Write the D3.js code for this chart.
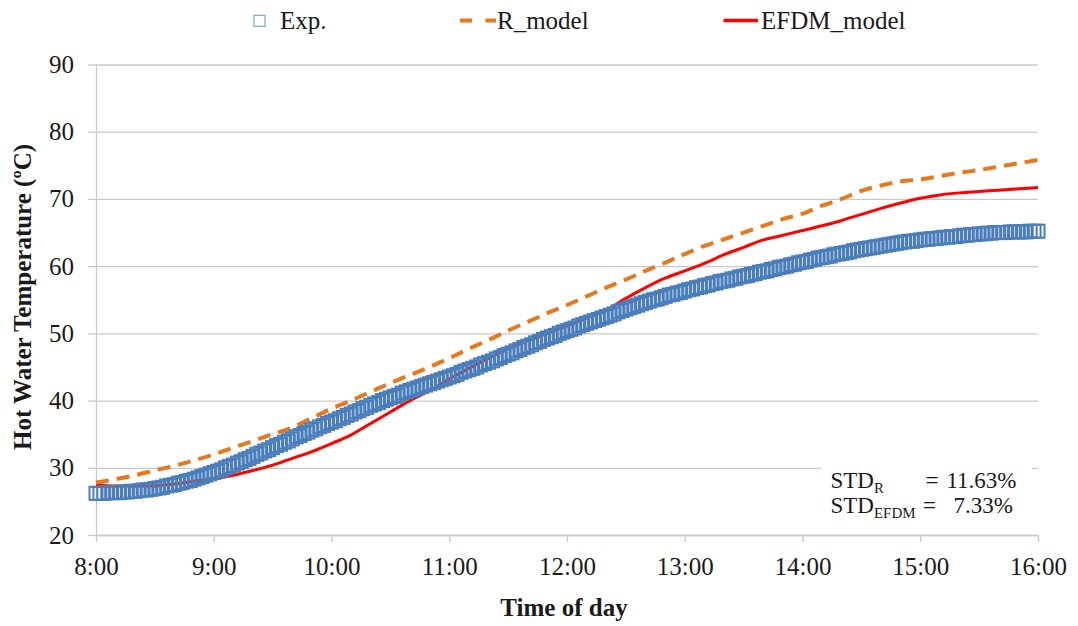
<!DOCTYPE html>
<html>
<head>
<meta charset="utf-8">
<script src="https://cdn.jsdelivr.net/npm/d3@7"></script>
<style>
  body { margin: 0; background: #fff; }
  svg text { font-family: "Liberation Serif", "Times New Roman", serif; fill: #1a1a1a; }
</style>
</head>
<body>
<svg id="chart" width="1078" height="626"></svg>
<script>
// tick labels
const hourLabels = ["8:00", "9:00", "10:00", "11:00", "12:00", "13:00", "14:00", "15:00", "16:00"];
const yTicks = [20, 30, 40, 50, 60, 70, 80, 90];

// measured hot water temperature, one reading every 2 min from 8:00
const expStart = "8:00";
const expStepMin = 2;
const expValues = [
  26.2, 26.2, 26.2, 26.3, 26.3, 26.3, 26.3, 26.4, 26.4, 26.5,
  26.5, 26.6, 26.7, 26.7, 26.8, 26.9, 27.0, 27.1, 27.3, 27.4,
  27.5, 27.7, 27.8, 28.0, 28.1, 28.3, 28.5, 28.7, 28.9, 29.1,
  29.3, 29.5, 29.7, 30.0, 30.2, 30.4, 30.7, 30.9, 31.2, 31.4,
  31.7, 32.0, 32.2, 32.5, 32.7, 33.0, 33.3, 33.5, 33.8, 34.0,
  34.3, 34.6, 34.8, 35.1, 35.3, 35.6, 35.8, 36.1, 36.3, 36.6,
  36.8, 37.0, 37.3, 37.5, 37.8, 38.0, 38.3, 38.5, 38.8, 39.0,
  39.3, 39.5, 39.7, 40.0, 40.2, 40.4, 40.6, 40.8, 41.1, 41.3,
  41.5, 41.7, 41.9, 42.1, 42.3, 42.5, 42.7, 42.9, 43.1, 43.3,
  43.5, 43.7, 43.9, 44.2, 44.4, 44.6, 44.8, 45.0, 45.3, 45.5,
  45.7, 45.9, 46.2, 46.4, 46.7, 46.9, 47.1, 47.4, 47.6, 47.9,
  48.1, 48.3, 48.6, 48.8, 49.1, 49.3, 49.5, 49.7, 50.0, 50.2,
  50.4, 50.6, 50.8, 51.1, 51.3, 51.5, 51.7, 51.9, 52.1, 52.3,
  52.5, 52.7, 52.9, 53.2, 53.4, 53.6, 53.8, 54.0, 54.2, 54.4,
  54.6, 54.8, 55.0, 55.1, 55.3, 55.5, 55.7, 55.8, 56.0, 56.1,
  56.3, 56.5, 56.6, 56.8, 56.9, 57.1, 57.2, 57.4, 57.5, 57.7,
  57.8, 57.9, 58.1, 58.2, 58.4, 58.5, 58.6, 58.8, 58.9, 59.1,
  59.2, 59.3, 59.5, 59.6, 59.8, 59.9, 60.0, 60.2, 60.3, 60.5,
  60.6, 60.7, 60.9, 61.0, 61.2, 61.3, 61.4, 61.5, 61.7, 61.8,
  61.9, 62.0, 62.1, 62.3, 62.4, 62.5, 62.6, 62.7, 62.8, 62.9,
  63.0, 63.1, 63.2, 63.3, 63.4, 63.5, 63.6, 63.7, 63.7, 63.8,
  63.9, 64.0, 64.0, 64.1, 64.1, 64.2, 64.3, 64.3, 64.4, 64.4,
  64.5, 64.6, 64.6, 64.7, 64.7, 64.8, 64.8, 64.9, 64.9, 65.0,
  65.0, 65.0, 65.0, 65.1, 65.1, 65.1, 65.1, 65.1, 65.2, 65.2,
  65.2
];

// model predictions, one value every 10 min from 8:00
const modelStepMin = 10;
const rModel = [
  27.8, 28.3, 28.9, 29.6, 30.3, 31.1, 32.0, 33.0, 34.0, 35.0,
  36.0, 37.4, 38.8, 40.0, 41.3, 42.6, 43.8, 45.0, 46.3, 47.7,
  49.0, 50.4, 51.7, 53.0, 54.2, 55.5, 56.8, 58.0, 59.3, 60.5,
  61.8, 63.0, 64.0, 65.0, 66.0, 67.0, 67.8, 69.0, 70.0, 71.2,
  72.0, 72.6, 72.9, 73.4, 73.9, 74.3, 74.8, 75.3, 75.8
];
const efdmModel = [
  27.4, 27.3, 27.3, 27.3, 27.6, 28.0, 28.4, 28.9, 29.6, 30.4,
  31.4, 32.4, 33.6, 34.9, 36.6, 38.3, 40.0, 41.5, 43.2, 44.8,
  46.3, 47.7, 48.9, 50.0, 51.1, 52.3, 53.5, 55.2, 56.8, 58.2,
  59.3, 60.4, 61.7, 62.8, 63.9, 64.6, 65.3, 66.0, 66.8, 67.7,
  68.6, 69.4, 70.1, 70.6, 70.9, 71.1, 71.3, 71.5, 71.7
];

const stdRows = [
  { name: "STD", sub: "R", value: "11.63%" },
  { name: "STD", sub: "EFDM", value: "7.33%" }
];

const toMin = s => { const [h, m] = s.split(":").map(Number); return h * 60 + m; };

const svg = d3.select("#chart");
const plotLeft = 96, plotRight = 1038, plotTop = 64.5, plotBottom = 535;

const x = d3.scaleLinear()
  .domain([toMin(hourLabels[0]), toMin(hourLabels[hourLabels.length - 1])])
  .range([plotLeft, plotRight]);
const y = d3.scaleLinear().domain([20, 90]).range([plotBottom, plotTop]);

const gridColor = "#c9c9c9";

// horizontal gridlines
svg.append("g")
  .attr("transform", `translate(${plotLeft},0)`)
  .call(d3.axisLeft(y).tickValues(yTicks).tickSize(-(plotRight - plotLeft)).tickFormat(""))
  .call(g => g.select(".domain").remove())
  .call(g => g.selectAll("line").attr("stroke", gridColor).attr("stroke-width", 1.3));

// y axis
svg.append("g")
  .attr("transform", `translate(${plotLeft},0)`)
  .call(d3.axisLeft(y).tickValues(yTicks).tickSize(8).tickSizeOuter(0).tickPadding(14))
  .call(g => g.select(".domain").attr("stroke", gridColor).attr("stroke-width", 1.3))
  .call(g => g.selectAll("line").attr("stroke", gridColor).attr("stroke-width", 1.3))
  .call(g => g.selectAll("text").attr("font-size", 25).style("font-family", "Liberation Serif"));

// x axis
svg.append("g")
  .attr("transform", `translate(0,${plotBottom})`)
  .call(d3.axisBottom(x).tickValues(hourLabels.map(toMin)).tickFormat((d, i) => hourLabels[i])
    .tickSize(7).tickSizeOuter(0).tickPadding(15))
  .call(g => g.select(".domain").attr("stroke", gridColor).attr("stroke-width", 1.3))
  .call(g => g.selectAll("line").attr("stroke", gridColor).attr("stroke-width", 1.3))
  .call(g => g.selectAll("text").attr("font-size", 25).style("font-family", "Liberation Serif"));

// series
const t0 = toMin(expStart);
const expData = expValues.map((v, i) => ({ t: t0 + i * expStepMin, v }));
const modelData = arr => arr.map((v, i) => ({ t: t0 + i * modelStepMin, v }));

const line = d3.line().x(d => x(d.t)).y(d => y(d.v)).curve(d3.curveMonotoneX);

svg.append("path")
  .datum(modelData(efdmModel))
  .attr("fill", "none")
  .attr("stroke", "#ff0000")
  .attr("stroke-width", 3)
  .attr("d", line);

svg.append("path")
  .datum(modelData(rModel))
  .attr("fill", "none")
  .attr("stroke", "#e8781c")
  .attr("stroke-width", 4)
  .attr("stroke-dasharray", "13,8")
  .attr("d", line);

const sq = 13;
svg.append("g")
  .selectAll("rect")
  .data(expData)
  .join("rect")
  .attr("x", d => x(d.t) - sq / 2)
  .attr("y", d => y(d.v) - sq / 2)
  .attr("width", sq)
  .attr("height", sq)
  .attr("fill", "none")
  .attr("stroke", "#4a7ebb")
  .attr("stroke-width", 2);

// legend
const leg = svg.append("g");
leg.append("rect")
  .attr("x", 254).attr("y", 15.3).attr("width", 11).attr("height", 11)
  .attr("fill", "none").attr("stroke", "#7fa3d1").attr("stroke-width", 1.2);
leg.append("text").attr("x", 280).attr("y", 29).attr("font-size", 25).text("Exp.");

leg.append("line")
  .attr("x1", 460).attr("x2", 496).attr("y1", 20.5).attr("y2", 20.5)
  .attr("stroke", "#e8781c").attr("stroke-width", 4).attr("stroke-dasharray", "12,13.5");
leg.append("text").attr("x", 497).attr("y", 29).attr("font-size", 25).text("R_model");

leg.append("line")
  .attr("x1", 723.5).attr("x2", 758).attr("y1", 20.6).attr("y2", 20.6)
  .attr("stroke", "#ff0000").attr("stroke-width", 3.5);
leg.append("text").attr("x", 761).attr("y", 29).attr("font-size", 25).text("EFDM_model");

// STD box
const box = svg.append("g");
box.append("rect")
  .attr("x", 821).attr("y", 461).attr("width", 211).attr("height", 62)
  .attr("fill", "#fff");
stdRows.forEach((r, i) => {
  const by = 488.3 + i * 25;
  const t = box.append("text").attr("y", by).attr("font-size", 23);
  t.append("tspan").attr("x", 830.5).text(r.name);
  t.append("tspan").attr("font-size", 15).attr("dy", 5).text(r.sub);
  box.append("text").attr("x", i === 0 ? 925.5 : 923).attr("y", by).attr("font-size", 23).text("=");
  box.append("text").attr("x", i === 0 ? 1016.5 : 1013).attr("y", by).attr("font-size", 23)
    .attr("text-anchor", "end").text(r.value);
});

// axis titles
svg.append("text")
  .attr("transform", "translate(30.5,297) rotate(-90)")
  .attr("text-anchor", "middle")
  .attr("font-size", 25)
  .attr("font-weight", "bold")
  .text("Hot Water Temperature (ºC)");

svg.append("text")
  .attr("x", 564).attr("y", 616)
  .attr("text-anchor", "middle")
  .attr("font-size", 25)
  .attr("font-weight", "bold")
  .text("Time of day");
</script>
</body>
</html>
